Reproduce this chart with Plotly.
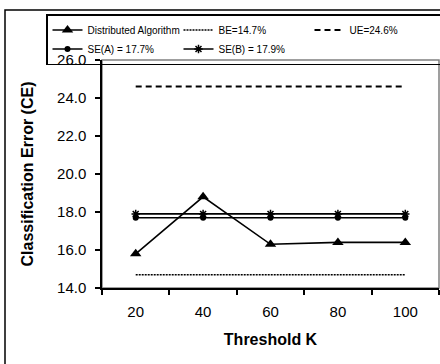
import plotly.graph_objects as go

thresholds = ["20", "40", "60", "80", "100"]
distributed = [15.8, 18.8, 16.3, 16.4, 16.4]
be_value = 14.7
ue_value = 24.6
se_a_value = 17.7
se_b_value = 17.9
y_ticks = [14, 16, 18, 20, 22, 24, 26]

FONT = "Liberation Sans, Arial, sans-serif"

fig = go.Figure()
fig.add_trace(go.Scatter(
    x=thresholds, y=distributed, name="Distributed Algorithm",
    mode="lines+markers", line=dict(color="black", width=1.6),
    marker=dict(symbol="triangle-up", size=10, color="black")))
fig.add_trace(go.Scatter(
    x=thresholds, y=[be_value] * len(thresholds), name="BE=14.7%",
    mode="lines", line=dict(color="black", width=1.5, dash="2px,1px")))
fig.add_trace(go.Scatter(
    x=thresholds, y=[ue_value] * len(thresholds), name="UE=24.6%",
    mode="lines", line=dict(color="black", width=2, dash="6px,4px")))
fig.add_trace(go.Scatter(
    x=thresholds, y=[se_a_value] * len(thresholds), name="SE(A) = 17.7%",
    mode="lines+markers", line=dict(color="black", width=1.6),
    marker=dict(symbol="circle", size=6, color="black")))
fig.add_trace(go.Scatter(
    x=thresholds, y=[se_b_value] * len(thresholds), name="SE(B) = 17.9%",
    mode="lines+markers", line=dict(color="black", width=1.6),
    marker=dict(symbol="asterisk-open", size=7, color="black",
                line=dict(color="black", width=1.5))))

# plot area: x 102..439, y 60..288
PW, PH = 337.0, 228.0
def px_x(px):
    return (px - 102) / PW
def px_y(py):
    return (288 - py) / PH

fig.add_shape(type="rect", xref="paper", yref="paper",
              x0=0, x1=1, y0=0, y1=1, layer="below",
              line=dict(color="#808080", width=1.5))
fig.add_shape(type="rect", xref="paper", yref="paper",
              x0=px_x(5), x1=px_x(470), y0=px_y(400), y1=px_y(10),
              layer="below", line=dict(color="black", width=1.5))

fig.update_layout(
    width=440, height=364,
    margin=dict(l=102, r=1, t=60, b=76, autoexpand=False),
    paper_bgcolor="white", plot_bgcolor="white",
    font=dict(family=FONT, color="black", size=15),
    showlegend=True,
    legend=dict(
        orientation="h", x=px_x(46), y=px_y(14), xanchor="left", yanchor="top",
        bordercolor="black", borderwidth=1.5, bgcolor="rgba(255,255,255,0)",
        font=dict(size=10, family=FONT), entrywidth=86, entrywidthmode="pixels",
        itemwidth=30, tracegroupgap=0),
    xaxis=dict(
        type="category", categoryorder="array", categoryarray=thresholds,
        range=[-0.5, 4.5], tickson="boundaries", ticks="outside", ticklen=5,
        tickwidth=1.5, tickcolor="black", showline=True, linecolor="black",
        linewidth=1.5, showgrid=False, zeroline=False, ticklabelstandoff=9,
        tickfont=dict(size=15), automargin=False,
        title=dict(text="<b>Threshold K</b>", font=dict(size=16), standoff=15)),
    yaxis=dict(
        range=[14, 26], tickvals=y_ticks, tickformat=".1f", ticks="outside",
        ticklen=5, tickwidth=1.5, tickcolor="black", showline=True,
        linecolor="black", linewidth=1.5, showgrid=False, zeroline=False,
        ticklabelstandoff=6, tickfont=dict(size=15), automargin=False,
        title=dict(text="<b>Classification Error (CE)</b>", font=dict(size=16),
                   standoff=19)),
)

fig.write_html("out.html",
               config={"displayModeBar": False},
               post_script="document.body.style.margin='0px';"
                           "document.body.style.overflow='hidden';")
